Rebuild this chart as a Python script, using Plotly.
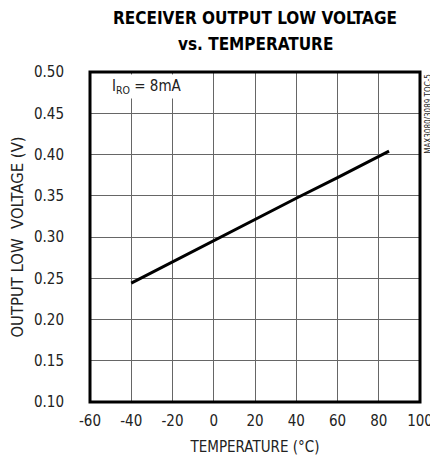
import plotly.graph_objects as go

temperature_c = [-40, -20, 0, 20, 40, 60, 85]
output_low_v = [0.244, 0.270, 0.296, 0.321, 0.347, 0.372, 0.404]

x_ticks = [-60, -40, -20, 0, 20, 40, 60, 80, 100]
y_ticks = [0.10, 0.15, 0.20, 0.25, 0.30, 0.35, 0.40, 0.45, 0.50]

FONT = "DejaVu Sans Condensed, Liberation Sans Narrow, Arial Narrow, sans-serif"

fig = go.Figure()
fig.add_trace(go.Scatter(x=temperature_c, y=output_low_v, mode="lines",
                         line=dict(color="black", width=3), showlegend=False))

fig.update_layout(
    width=430, height=450,
    margin=dict(l=82, r=18, t=64, b=56, autoexpand=False),
    paper_bgcolor="white", plot_bgcolor="white",
    font=dict(family=FONT, size=15, color="#222"),
    xaxis=dict(range=[-60, 100], tickvals=x_ticks, ticktext=[str(v) for v in x_ticks],
               showgrid=True, gridcolor="#666", gridwidth=1, zeroline=False, automargin=False,
               showline=False, ticks="", ticklabelstandoff=8,
               title=dict(text="TEMPERATURE (°C)", standoff=12, font=dict(size=15))),
    yaxis=dict(range=[0.10, 0.50], tickvals=y_ticks, ticktext=[f"{v:.2f}" for v in y_ticks],
               showgrid=True, gridcolor="#666", gridwidth=1, zeroline=False, automargin=False,
               showline=False, ticks="", ticklabelstandoff=25,
               title=dict(text="OUTPUT LOW&nbsp; VOLTAGE (V)", standoff=6, font=dict(size=16.5))),
)

fig.add_shape(type="rect", xref="paper", yref="paper", x0=0, y0=0, x1=1, y1=1,
              line=dict(color="black", width=3), layer="above")

title_lines = ["RECEIVER OUTPUT LOW VOLTAGE", "vs. TEMPERATURE"]
for i, t in enumerate(title_lines):
    fig.add_annotation(text=f"<b>{t}</b>", xref="paper", yref="paper", x=0.5,
                       y=1 + (54 - 26 * i) / 330, xanchor="center", yanchor="middle",
                       showarrow=False, font=dict(family=FONT, size=17, color="black"))

fig.add_annotation(text="I<sub>RO</sub> = 8mA", xref="x", yref="y", x=-51, y=0.482,
                   xanchor="left", yanchor="middle", showarrow=False,
                   bgcolor="white", borderpad=2, font=dict(size=15, color="#222"))

fig.add_annotation(text="MAX3080/3089 TOC-5", xref="paper", yref="paper", x=1.004, y=1.0,
                   xanchor="left", yanchor="top", textangle=-90, showarrow=False,
                   font=dict(size=8, color="#222"))

fig.write_html("out.html")
